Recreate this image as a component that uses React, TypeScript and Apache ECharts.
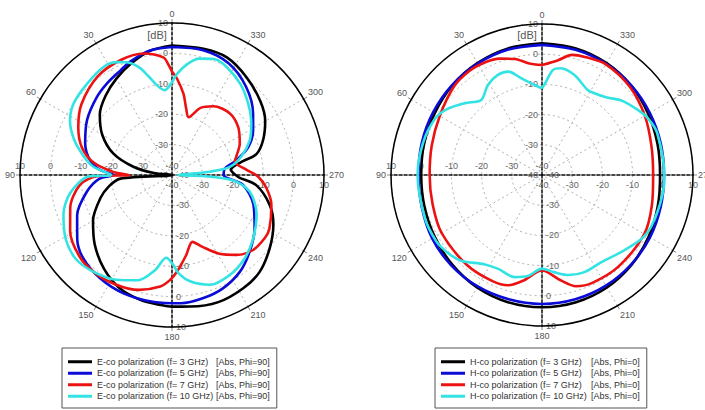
import React, { useEffect, useRef } from 'react';
import * as echarts from 'echarts';

const FONT = 'Liberation Sans, Arial, sans-serif';

const E_NAMES = [
  'E-co polarization (f= 3 GHz)',
  'E-co polarization (f= 5 GHz)',
  'E-co polarization (f= 7 GHz)',
  'E-co polarization (f= 10 GHz)',
];
const H_NAMES = [
  'H-co polarization (f= 3 GHz)',
  'H-co polarization (f= 5 GHz)',
  'H-co polarization (f= 7 GHz)',
  'H-co polarization (f= 10 GHz)',
];
const E_SUFFIX = '[Abs, Phi=90]';
const H_SUFFIX = '[Abs, Phi=0]';
const COLORS = ['#000000', '#0b0bd8', '#ec1212', '#33e3e3'];

const R_MIN = -40;
const R_MAX = 10;
const R_STEP = 10;
const ANGLE_STEP = 30;

// [angle (deg, counter-clockwise from top), gain (dB)]
const E3: [number, number][] = [
  [0, 2.6], [10, 1.5], [20, -0.9], [30, -3.4], [40, -6], [50, -9], [60, -13.5], [70, -19.5],
  [78, -27], [84, -34], [90, -40], [94, -23], [100, -19], [108, -15.2], [120, -10], [132, -5.8],
  [144, -1.9], [155, 1], [166, 2.4], [175, 2.9], [180, 3.3], [188, 3.7], [200, 4.5], [212, 4],
  [222, 3], [233, 0.2], [244, -2.9], [253, -6.4], [263, -12], [268, -18], [271, -19.5], [275, -20.6],
  [278, -19.5], [281, -16.2], [284, -11.3], [291, -7.9], [300, -4.6], [310, -2.1], [323, 0.5],
  [335, 2.7], [346, 2.8], [360, 2.6],
];
const E5: [number, number][] = [
  [0, 2.1], [10, 1.6], [20, -0.2], [26, -1.6], [35, -3], [44, -4.4], [57, -6.7], [70, -9.6],
  [80, -12.7], [86, -16.3], [90, -20.8], [93, -16], [101, -11.5], [113, -6.1], [124, -2.4],
  [133, 0], [145, 1.4], [158, 2.1], [172, 2.2], [184, 2.3], [194, 1.8], [204, 0.9], [215, -1.1],
  [225, -4], [237, -7.6], [250, -11.5], [262, -16.4], [270, -23], [277, -22.5], [283, -18.2],
  [290, -13.3], [299, -9.5], [307, -6.6], [320, -2.1], [333, 1.2], [346, 2.3], [360, 2.1],
];
const E7: [number, number][] = [
  [0, -6], [2, -3.5], [4, -1.3], [13, 1], [24, 1.4], [37, 0.6], [52, -2.2], [63, -5.4], [73, -9],
  [81, -13.9], [87, -20.7], [90, -26], [91, -15.3], [96, -9.6], [108, -4.8], [119, -1.7],
  [131, 0.5], [141, 1], [153, 0.5], [164, -0.7], [174, -3.1], [179, -5.5], [183, -8.2],
  [190, -13.2], [197, -17], [203, -14.3], [211, -9.8], [219, -6.2], [227, -3.7], [236, -3.1],
  [241, -3.4], [253, -5.8], [262, -8.6], [269, -11.7], [274, -15.4], [282, -18.9], [286, -18],
  [295, -15.4], [306, -13.1], [317, -12.2], [329, -13.6], [337, -16], [344, -20.2], [348, -17.6],
  [352, -13], [357, -8.3], [360, -6],
];
const E10: [number, number][] = [
  [0, -9.5], [5, -12], [9, -10.4], [13, -7], [17, -3], [22, 0], [26, 1.3], [32, 2.1], [43, 1],
  [54, 0], [62, -2], [70, -5.7], [78, -10.3], [84, -14], [90, -20], [91, -12.5], [100, -6],
  [110, -2], [121, 0.8], [131, 2], [141, 1], [152, -1], [162, -3.6], [170, -8.3], [176, -12.7],
  [180, -11], [184, -7.5], [190, -4.4], [199, -1.8], [210, -2], [221, -3.6], [232, -6.1],
  [245, -9.3], [258, -13.9], [265, -20], [268, -30], [270, -38], [274, -35], [275, -27.5],
  [278, -20.8], [285, -16.4], [294, -12], [303, -8.9], [313, -5.7], [323, -2.6], [333, -0.2],
  [340, 0.6], [347, -0.7], [352, -3.1], [357, -6.6], [360, -9.5],
];

const H3: [number, number][] = [
  [0, 3.6], [15, 3.4], [30, 2.8], [45, 2], [60, 1], [75, 0.4], [90, 0], [105, 0.3], [120, 1],
  [135, 2], [150, 3], [165, 3.6], [180, 3.8], [195, 3.6], [210, 3], [225, 2], [240, 0.8],
  [255, -0.3], [270, -0.9], [285, -0.4], [300, 0.6], [315, 1.8], [330, 2.8], [345, 3.4], [360, 3.6],
];
const H5: [number, number][] = [
  [0, 3.1], [15, 3], [30, 2.6], [45, 2.1], [60, 1.6], [75, 1.2], [90, 0.9], [105, 1.2], [120, 2],
  [135, 2.4], [150, 2.6], [165, 2.6], [180, 2.7], [195, 2.6], [210, 2.3], [225, 1.8], [240, 1.3],
  [255, 0.7], [270, 0.4], [285, 0.7], [300, 1.2], [315, 1.9], [330, 2.5], [345, 2.9], [360, 3.1],
];
const H7: [number, number][] = [
  [0, -3.6], [7, -2.7], [13, -0.6], [20, 1], [27, 1.8], [35, 2], [45, 1.3], [60, -0.9], [75, -2.2],
  [90, -2.8], [105, -2.5], [120, -1.6], [140, -1.2], [155, -1.2], [163, -1.8], [170, -4.5],
  [180, -8.4], [190, -4.6], [197, -1.5], [205, -0.6], [220, -0.5], [240, -0.9], [255, -2.3],
  [270, -3.2], [285, -2.5], [300, -0.7], [315, 1.2], [330, 2.3], [340, 1.6], [346, 1], [352, -1.6],
  [360, -3.6],
];
const H10: [number, number][] = [
  [0, -11.3], [5, -10], [12, -7.3], [18, -4], [24, -3.8], [31, -5.2], [39, -8], [47, -5.1],
  [55, -1.8], [62, 0], [75, 0.8], [90, 1.2], [110, 1.3], [122, 1.3], [130, 0.4], [137, -1.1],
  [147, -4.8], [155, -5.7], [165, -5], [172, -6.2], [180, -9], [187, -7.6], [195, -5.7],
  [204, -4.9], [214, -5.1], [226, -3.4], [237, -0.9], [245, 0], [260, 0.4], [270, 0.5], [290, 0.6],
  [298, -0.2], [304, -1.6], [313, -3.9], [320, -6.5], [327, -7.8], [332, -8], [342, -5.2],
  [350, -4.1], [354, -5], [358, -9.6], [360, -11.3],
];

const E_DATA = [E3, E5, E7, E10];
const H_DATA = [H3, H5, H7, H10];

const CHARTS = [
  { center: [172, 175], radius: 152, names: E_NAMES, data: E_DATA, suffix: E_SUFFIX, legendLeft: 62, nameWidth: 119 },
  { center: [542, 175], radius: 151, names: H_NAMES, data: H_DATA, suffix: H_SUFFIX, legendLeft: 435, nameWidth: 121 },
];
// radius-axis directions: up (main), left, down, right
const DIRS = [90, 180, 270, 0];
// label offsets so that horizontal-axis labels sit above (left) / below (right) the line
const LABEL_MARGIN = [4, -14, 4, -14];

function buildOption() {
  const polar: any[] = [];
  const angleAxis: any[] = [];
  const radiusAxis: any[] = [];
  const series: any[] = [];
  const legend: any[] = [];
  const graphic: any[] = [];

  CHARTS.forEach((c, ci) => {
    DIRS.forEach((dir, di) => {
      const idx = ci * 4 + di;
      const main = di === 0;
      const rim = di === 1; // draws the solid outer circle on top of the dotted rings
      polar.push({ center: c.center, radius: c.radius });
      angleAxis.push({
        polarIndex: idx,
        type: 'value',
        min: 0,
        max: 360,
        interval: ANGLE_STEP,
        startAngle: dir,
        clockwise: false,
        show: main || rim,
        z: rim ? 3 : 1,
        axisLine: { show: rim, lineStyle: { color: '#000', width: 1.5 } },
        axisTick: { show: main, length: 4, lineStyle: { color: '#888' } },
        axisLabel: { show: main, color: '#555', fontSize: 9, fontFamily: FONT, margin: 5 },
        splitLine: { show: main, lineStyle: { color: '#b0b0b0', width: 1, type: [2, 3] } },
      });
      radiusAxis.push({
        polarIndex: idx,
        type: 'value',
        min: R_MIN,
        max: R_MAX,
        interval: R_STEP,
        z: 2,
        axisLine: { show: true, lineStyle: { color: '#111', width: 1.5, type: [3, 2] } },
        axisTick: { show: false },
        axisLabel: { show: true, color: '#666', fontSize: 9, fontFamily: FONT, margin: LABEL_MARGIN[di] },
        splitLine: { show: main, lineStyle: { color: '#b0b0b0', width: 1, type: [2, 3] } },
      });
    });
    c.data.forEach((pairs, si) => {
      series.push({
        type: 'line',
        name: c.names[si],
        coordinateSystem: 'polar',
        polarIndex: ci * 4,
        showSymbol: false,
        symbol: 'none',
        smooth: 0.3,
        color: COLORS[si],
        lineStyle: { width: 2.6, color: COLORS[si] },
        z: 4,
        data: pairs.map(([a, v]) => [v, a]),
      });
    });
    legend.push({
      data: c.names,
      left: c.legendLeft,
      top: 348,
      orient: 'vertical',
      icon: 'rect',
      itemWidth: 24,
      itemHeight: 3,
      itemGap: 0,
      padding: [8, 7, 6, 6],
      borderColor: '#555',
      borderWidth: 1,
      selectedMode: false,
      formatter: (n: string) => `{a|${n}}{b|${c.suffix}}`,
      textStyle: {
        fontSize: 9,
        color: '#333',
        fontFamily: FONT,
        lineHeight: 11.5,
        rich: {
          a: { width: c.nameWidth, fontSize: 9, color: '#333', fontFamily: FONT, lineHeight: 11.5 },
          b: { fontSize: 9, color: '#333', fontFamily: FONT, lineHeight: 11.5 },
        },
      },
    });
    graphic.push({
      type: 'text',
      x: c.center[0] - 15,
      y: 35,
      z: 10,
      style: { text: '[dB]', fontSize: 11, fontFamily: FONT, fill: '#555', align: 'center', verticalAlign: 'middle' },
    });
  });

  return { animation: false, backgroundColor: '#fff', polar, angleAxis, radiusAxis, series, legend, graphic };
}

export default function App() {
  const ref = useRef<HTMLDivElement>(null);
  useEffect(() => {
    document.body.style.margin = '0';
    if (!ref.current) return;
    const chart = echarts.init(ref.current, undefined, { renderer: 'svg' });
    chart.setOption(buildOption());
    return () => chart.dispose();
  }, []);
  return <div ref={ref} style={{ width: 705, height: 410 }} />;
}
